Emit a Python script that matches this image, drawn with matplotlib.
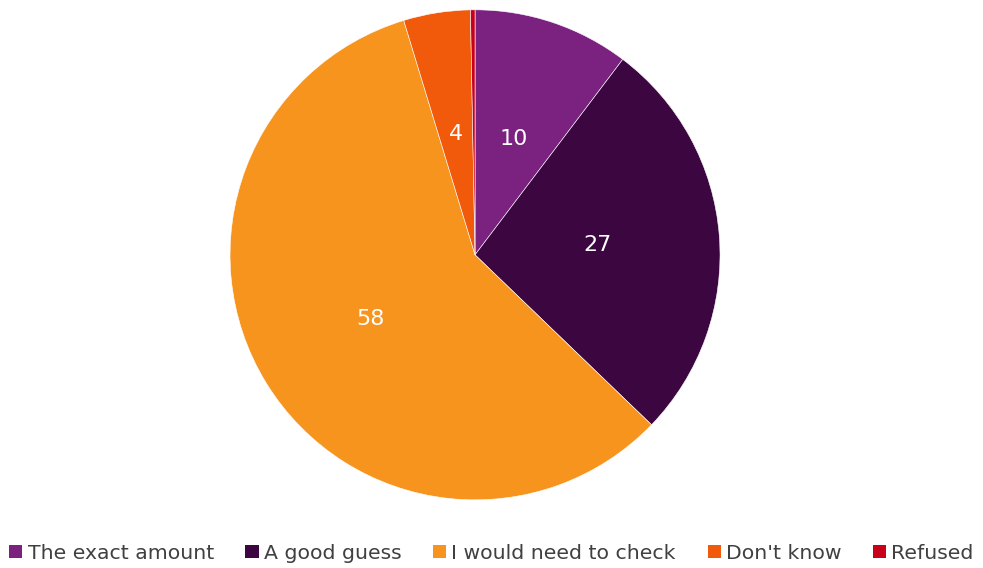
import matplotlib
matplotlib.use("Agg")
import matplotlib.pyplot as plt
from matplotlib.patches import Patch

categories = ["The exact amount", "A good guess", "I would need to check", "Don't know", "Refused"]
values = [10.3, 26.9, 58.1, 4.4, 0.3]
colors = ["#7B2281", "#3C0641", "#F7941E", "#F15A0B", "#C8001E"]

fig = plt.figure(figsize=(9.83, 5.68), dpi=100)
ax = fig.add_axes([0.234, 0.120, 0.4985, 0.8627])

def fmt(p):
    return "" if p < 1 else f"{p:.0f}"

wedges, texts, autotexts = ax.pie(values, colors=colors, startangle=90, counterclock=False,
                                  autopct=fmt, pctdistance=0.5,
                                  wedgeprops=dict(edgecolor="white", linewidth=0.4),
                                  textprops=dict(color="white", fontsize=16))
ax.set_aspect("auto")
ax.set_xlim(-1, 1)
ax.set_ylim(-1, 1)

handles = [Patch(facecolor=c, edgecolor="none") for c in colors]
fig.legend(handles, categories, loc="center", bbox_to_anchor=(0.5, 0.026), ncol=5,
           frameon=False, fontsize=14.7, labelcolor="#404040",
           handlelength=0.65, handleheight=0.65, handletextpad=0.25, columnspacing=1.55)

fig.savefig("out.png", dpi=100)
